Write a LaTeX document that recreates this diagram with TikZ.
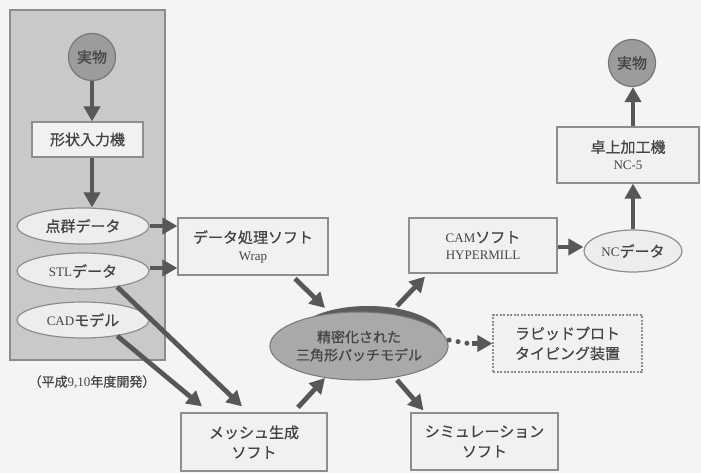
\documentclass[tikz,border=0pt]{standalone}
\usepackage{fontspec}
\setmainfont{Liberation Serif}
\newfontfamily\jp[FakeBold=0.7]{Noto Sans CJK JP}
\usetikzlibrary{arrows.meta,shapes.geometric,calc}
\definecolor{bgc}{HTML}{F4F4F2}
\definecolor{panelc}{HTML}{C9C9C7}
\definecolor{panelb}{HTML}{8C8C8C}
\definecolor{circf}{HTML}{9C9C9C}
\definecolor{circb}{HTML}{767676}
\definecolor{boxf}{HTML}{F1F1EF}
\definecolor{bdr}{HTML}{8E8E8E}
\definecolor{ovalf}{HTML}{EDEDEB}
\definecolor{arrc}{HTML}{575757}
\definecolor{txt}{HTML}{444444}
\definecolor{cmf}{HTML}{A9A9A9}
\definecolor{cmshadow}{HTML}{5C5C5C}
\newcommand\lat[1]{{\rmfamily\fontsize{13}{16}\selectfont #1}}
\tikzset{
  base/.style={text=txt, font=\jp\fontsize{15}{20}\selectfont, align=center, inner sep=0pt},
  box/.style={base, draw=bdr, fill=boxf, line width=1.2pt},
  dbox/.style={box, dashed, dash pattern=on 2pt off 1.5pt},
  oval/.style={base, ellipse, draw=bdr, fill=ovalf, line width=1.2pt, minimum width=132pt, minimum height=36pt},
  real/.style={base, circle, draw=circb, fill=circf, line width=1.2pt, minimum size=47pt},
  arr/.style={draw=arrc, line width=4.8pt, -{Triangle[length=15pt,width=16pt]}},
}
\begin{document}
\begin{tikzpicture}[x=1pt,y=-1pt]
\fill[bgc] (0,0) rectangle (701,473);
\useasboundingbox (0,0) rectangle (701,473);

% left panel
\node[draw=panelb, fill=panelc, line width=1.2pt, minimum width=155pt, minimum height=350pt, inner sep=0pt] (pnl) at (87.5,185) {};
\node[base, font=\jp\fontsize{13}{16}\selectfont] (lbl) at (92,382) {（平成\lat{9,10}年度開発）};

\node[real] (r1) at (92,57) {実物};
\node[box, minimum width=111pt, minimum height=35pt] (shp) at (87.5,139.5) {形状入力機};
\node[oval] (pts) at (83,226) {点群データ};
\node[oval] (stl) at (83,271) {\lat{STL}データ};
\node[oval] (cad) at (83,320) {\lat{CAD}モデル};

% middle boxes
\node[box, minimum width=150pt, minimum height=57pt] (dat) at (253,246.5) {データ処理ソフト\\[-3pt]\lat{Wrap}};
\node[box, minimum width=146pt, minimum height=58pt] (msh) at (254,442) {メッシュ生成\\ソフト};
\node[box, minimum width=148pt, minimum height=55pt] (cam) at (483,245.5) {\lat{CAM}ソフト\\[-3pt]\lat{HYPERMILL}};
\node[box, minimum width=147pt, minimum height=57pt] (sim) at (484.5,441.5) {シミュレーション\\ソフト};
\node[dbox, minimum width=149pt, minimum height=57pt] (rp) at (567.5,343.5) {ラピッドプロト\\タイピング装置};

% right column
\node[oval, minimum width=98pt, minimum height=42pt] (nc) at (633,251) {\lat{NC}データ};
\node[box, minimum width=142pt, minimum height=56pt] (tab) at (628,155) {卓上加工機\\[-3pt]\lat{NC-5}};
\node[real] (r2) at (632,63) {実物};

% central ellipse with shadow
\node[ellipse, fill=cmshadow, minimum width=152pt, minimum height=68pt, inner sep=0pt] (cms) at (368,340) {};
\node[base, ellipse, draw=circb, fill=cmf, line width=1pt, minimum width=152pt, minimum height=68pt, font=\jp\fontsize{14}{18}\selectfont] (cm) at (359,346) {精密化された\\三角形パッチモデル};

% arrows
\draw[arr] (r1.south) -- (r1.south |- shp.north);
\draw[arr] (r1.south |- shp.south) -- (r1.south |- pts.north);
\draw[arr] (pts.east) -- (dat.west |- pts.east);
\draw[arr] ($(stl.east)+(0,-3)$) -- ($(dat.west |- stl.east)+(0,-3)$);
\draw[arr] (stl.-25) -- ($(msh.north)+(-12,-6)$);
\draw[arr] (cad.-25) -- ($(msh.north)+(-52,-6)$);
\draw[arr] ($(dat.south)+(42,3)$) -- ($(cm.center)+(-34,-38)$);
\draw[arr] ($(msh.north)+(44,-5)$) -- ($(cm.center)+(-34,32)$);
\draw[arr] ($(cm.center)+(38,-40)$) -- ($(cam.south)+(-58,3)$);
\draw[arr] ($(cm.center)+(38,34)$) -- ($(sim.north)+(-61,-2)$);
\draw[draw=arrc, line width=5pt, line cap=round, dash pattern=on 0pt off 9pt] ($(cms.east)+(5,0)$) -- ($(rp.west)+(-24,0)$);
\draw[arr] ($(rp.west)+(-20,0)$) -- (rp.west);
\draw[arr] ($(cam.east)+(0,1.5)$) -- ($(nc.west)+(0,-4)$);
\draw[arr] (nc.north) -- (nc.north |- tab.south);
\draw[arr] (nc.north |- tab.north) -- (nc.north |- r2.south);
\end{tikzpicture}
\end{document}
